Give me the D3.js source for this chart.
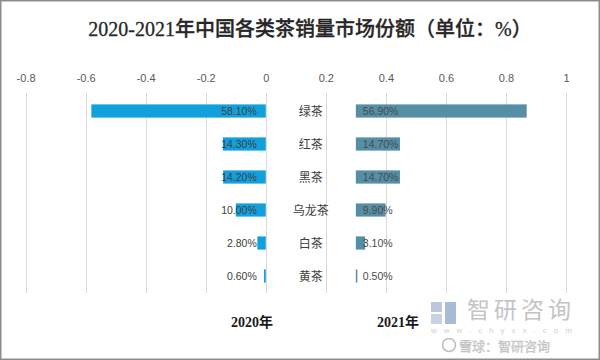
<!DOCTYPE html>
<html><head><meta charset="utf-8">
<script src="https://cdn.jsdelivr.net/npm/d3@7/dist/d3.min.js"></script>
<style>body{margin:0;background:#fff}svg{display:block}</style>
</head><body>
<svg id="c" width="600" height="360"></svg>
<script>
const categories = ['绿茶','红茶','黑茶','乌龙茶','白茶','黄茶'];
const values2020 = [58.1, 14.3, 14.2, 10.0, 2.8, 0.6];
const values2021 = [56.9, 14.7, 14.7, 9.9, 3.1, 0.5];
const tickValues = [-0.8, -0.6, -0.4, -0.2, 0, 0.2, 0.4, 0.6, 0.8, 1];
const gap = 0.3;
const seriesNames = ['2020年', '2021年'];

const svg = d3.select('#c');
const W = 600, H = 360;
svg.append('rect').attr('x',0.75).attr('y',0.75).attr('width',W-1.5).attr('height',H-1.5)
  .attr('fill','#fff').attr('stroke','#8c8c8c').attr('stroke-width',1.5);

svg.append('text').attr('x',310).attr('y',36).attr('text-anchor','middle')
  .attr('font-family','"Liberation Serif","Noto Sans CJK SC",serif')
  .attr('font-size',20).attr('font-weight',500).attr('fill','#262626')
  .attr('stroke','#262626').attr('stroke-width',0.3)
  .text('2020-2021年中国各类茶销量市场份额（单位：%）');

const x = d3.scaleLinear().domain([-0.8, 1]).range([25.6, 566]);
const y = d3.scaleBand().domain(categories).range([94.5, 292.5]).paddingInner(0.6).paddingOuter(0.3);

// gridlines
svg.append('g').selectAll('line').data(tickValues).join('line')
  .attr('x1', d => Math.round(x(d)) + 0.5).attr('x2', d => Math.round(x(d)) + 0.5)
  .attr('y1', 93).attr('y2', 293).attr('stroke', '#d9d9d9').attr('stroke-width', 1);

// top axis labels
const axis = d3.axisTop(x).tickValues(tickValues).tickSize(0).tickPadding(0)
  .tickFormat(d => d3.format('')(+d.toFixed(1)).replace('−','-'));
const ag = svg.append('g').attr('transform', 'translate(0,82)').call(axis);
ag.select('.domain').remove();
ag.selectAll('text').attr('font-family','"Liberation Sans","Noto Sans",sans-serif')
  .attr('font-size', 11).attr('fill', '#595959').attr('dy', 0);

const data = categories.map((c, i) => ({c, a: values2020[i], b: values2021[i]}));

// left bars (2020)
svg.append('g').selectAll('rect').data(data).join('rect')
  .attr('x', d => x(-d.a / 100)).attr('width', d => x(0) - x(-d.a / 100))
  .attr('y', d => y(d.c)).attr('height', y.bandwidth()).attr('fill', '#12a0dd');

// right bars (2021)
svg.append('g').selectAll('rect').data(data).join('rect')
  .attr('x', x(gap)).attr('width', d => x(gap + d.b / 100) - x(gap))
  .attr('y', d => y(d.c)).attr('height', y.bandwidth()).attr('fill', '#568ea5');

const lblFont = '"Liberation Sans","Noto Sans",sans-serif';
svg.append('g').selectAll('text').data(data).join('text')
  .attr('x', x(0) - 9).attr('y', d => y(d.c) + y.bandwidth() / 2 + 4)
  .attr('text-anchor', 'end').attr('font-family', lblFont).attr('font-size', 10.5)
  .attr('fill', '#404040').text(d => d.a.toFixed(2) + '%');

svg.append('g').selectAll('text').data(data).join('text')
  .attr('x', x(gap) + 7).attr('y', d => y(d.c) + y.bandwidth() / 2 + 4)
  .attr('text-anchor', 'start').attr('font-family', lblFont).attr('font-size', 10.5)
  .attr('fill', '#4a4a4a').text(d => d.b.toFixed(2) + '%');

// category labels
svg.append('g').selectAll('text').data(data).join('text')
  .attr('x', x(gap / 2)).attr('y', d => y(d.c) + y.bandwidth() / 2 + 4.5)
  .attr('text-anchor', 'middle').attr('font-family', '"Noto Sans CJK SC",sans-serif')
  .attr('font-size', 12).attr('fill', '#404040').text(d => d.c);

// series labels
svg.append('g').selectAll('text').data(seriesNames).join('text')
  .attr('x', (d, i) => i === 0 ? 252 : 398).attr('y', 327)
  .attr('text-anchor', 'middle').attr('font-family', '"Liberation Serif","Noto Sans CJK SC",serif')
  .attr('font-size', 14).attr('font-weight', 'bold').attr('fill', '#1a1a1a').text(d => d);

// watermark
const wm = svg.append('g');
wm.append('rect').attr('x', 431).attr('y', 302).attr('width', 11).attr('height', 10).attr('fill', '#b9c8dc');
wm.append('rect').attr('x', 445).attr('y', 302).attr('width', 11).attr('height', 22).attr('fill', '#a9bcd6');
wm.append('rect').attr('x', 431).attr('y', 314).attr('width', 11).attr('height', 10).attr('fill', '#c7d3e3');
wm.append('text').attr('x', 521).attr('y', 318).attr('text-anchor', 'middle')
  .attr('font-family', '"Noto Sans CJK SC",sans-serif').attr('font-size', 23)
  .attr('fill', '#c4c4c4').attr('letter-spacing', 4).text('智研咨询');
wm.append('text').attr('x', 505).attr('y', 333).attr('text-anchor', 'middle')
  .attr('font-family', '"Liberation Sans",sans-serif').attr('font-size', 8)
  .attr('fill', '#d0d0d0').attr('letter-spacing', 7).text('www.chyxx.com');
wm.append('circle').attr('cx', 449).attr('cy', 345).attr('r', 6.5).attr('fill', 'none')
  .attr('stroke', '#bdbdbd').attr('stroke-width', 1.5);
wm.append('text').attr('x', 459).attr('y', 351).attr('text-anchor', 'start')
  .attr('font-family', '"Noto Sans CJK SC",sans-serif').attr('font-size', 13)
  .attr('fill', '#d6d6d6').attr('stroke', '#bdbdbd').attr('stroke-width', 0.4)
  .text('雪球：智研咨询');
</script>
</body></html>
